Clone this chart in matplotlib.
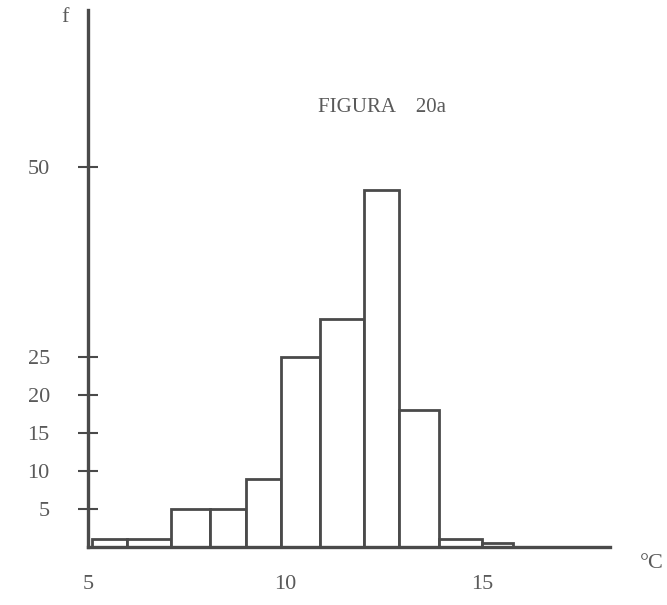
import matplotlib
matplotlib.use("Agg")
import matplotlib.pyplot as plt

# class edges (degrees C) and frequencies
edges = [5.1, 6.0, 7.1, 8.1, 9.0, 9.9, 10.9, 12.0, 12.9, 13.9, 15.0, 15.8]
freqs = [1, 1, 5, 5, 9, 25, 30, 47, 18, 1, 0.5]
y_ticks = [5, 10, 15, 20, 25, 50]
x_ticks = [5, 10, 15]

ink = "#4a4a4a"
plt.rcParams["font.family"] = ["Liberation Serif", "DejaVu Serif"]

fig = plt.figure(figsize=(6.67, 6.05), dpi=100)
ax = fig.add_axes([88 / 667, 58 / 605, 522 / 667, 537 / 605])

lefts = edges[:-1]
widths = [b - a for a, b in zip(edges[:-1], edges[1:])]
ax.bar(lefts, freqs, width=widths, align="edge", facecolor="white",
       edgecolor=ink, linewidth=2)

ax.set_xlim(5, 18.25)
ax.set_ylim(0, 70.7)

for s in ("top", "right"):
    ax.spines[s].set_visible(False)
for s in ("left", "bottom"):
    ax.spines[s].set_color(ink)
    ax.spines[s].set_linewidth(2.4)

ax.set_yticks(y_ticks)
ax.set_yticklabels([str(v) for v in y_ticks])
ax.tick_params(axis="y", direction="inout", length=15, width=1.5, color=ink,
               labelsize=16, labelcolor="#5a5a5a", pad=20)
ax.set_xticks(x_ticks)
ax.set_xticklabels([str(v) for v in x_ticks])
ax.tick_params(axis="x", length=0, labelsize=16, labelcolor="#5a5a5a", pad=20)

fig.text(65 / 667, 1 - 18 / 605, "f", fontsize=16, color="#5a5a5a",
         ha="center", va="center")
fig.text(382 / 667, 1 - 108 / 605, "FIGURA    20a", fontsize=15,
         color="#5a5a5a", ha="center", va="center")
fig.text(652 / 667, 1 - 563 / 605, "°C", fontsize=16, color="#5a5a5a",
         ha="center", va="center")

fig.savefig("out.png", dpi=100, facecolor="white")
